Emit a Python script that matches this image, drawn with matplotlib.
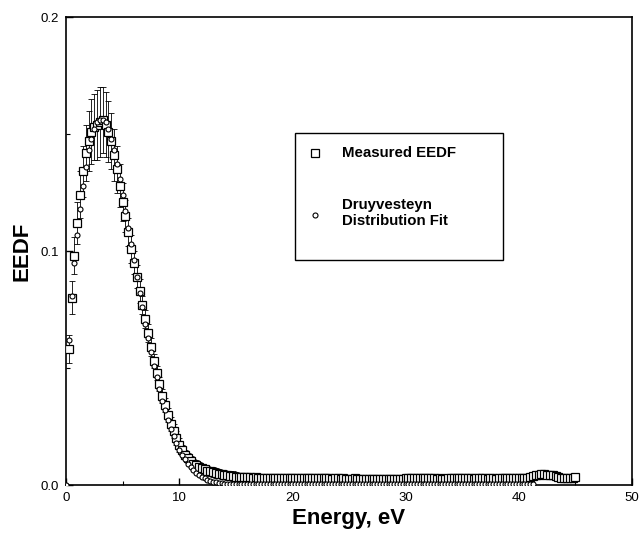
import numpy as np
import matplotlib
matplotlib.use("Agg")
import matplotlib.pyplot as plt
from matplotlib.patches import Rectangle
from matplotlib.lines import Line2D

plt.rcParams['font.family'] = ['Liberation Sans', 'DejaVu Sans']

# Measured EEDF: energies 0.25 ... 45.0 eV (step 0.25)
measured_energy = np.arange(0.25, 45.001, 0.25)
measured_eedf = [
    0.058, 0.080, 0.098, 0.112, 0.124, 0.134, 0.142, 0.147, 0.151, 0.153,
    0.154, 0.155, 0.156, 0.154, 0.151, 0.147, 0.141, 0.135, 0.128, 0.121,
    0.115, 0.108, 0.101, 0.095, 0.089, 0.083, 0.077, 0.071, 0.065, 0.059,
    0.053, 0.048, 0.043, 0.038, 0.034, 0.030, 0.026, 0.023, 0.020, 0.017,
    0.015, 0.013, 0.0115, 0.0102, 0.0092, 0.0085, 0.0078, 0.0072, 0.0067, 0.0062,
    0.0058, 0.0055, 0.0052, 0.0049, 0.0046, 0.0044, 0.0042, 0.0040, 0.0038, 0.0036,
    # 15.25 - 20.0
    0.0035, 0.0034, 0.0034, 0.0033, 0.0033, 0.0032, 0.0033, 0.0032, 0.0031, 0.0032,
    0.0031, 0.0031, 0.0030, 0.0031, 0.0030, 0.0030, 0.0031, 0.0030, 0.0029, 0.0030,
    # 20.25 - 25.0
    0.0030, 0.0029, 0.0029, 0.0030, 0.0028, 0.0029, 0.0029, 0.0028, 0.0029, 0.0028,
    0.0028, 0.0029, 0.0028, 0.0027, 0.0028, 0.0028, 0.0027, 0.0028, 0.0027, 0.0027,
    # 25.25 - 30.0
    0.0027, 0.0028, 0.0026, 0.0027, 0.0026, 0.0027, 0.0026, 0.0026, 0.0025, 0.0026,
    0.0025, 0.0026, 0.0025, 0.0024, 0.0025, 0.0024, 0.0025, 0.0026, 0.0027, 0.0028,
    # 30.25 - 35.0
    0.0028, 0.0029, 0.0029, 0.0030, 0.0029, 0.0030, 0.0029, 0.0028, 0.0029, 0.0028,
    0.0027, 0.0028, 0.0027, 0.0027, 0.0028, 0.0029, 0.0028, 0.0029, 0.0028, 0.0028,
    # 35.25 - 40.0
    0.0029, 0.0028, 0.0028, 0.0027, 0.0028, 0.0028, 0.0029, 0.0028, 0.0027, 0.0028,
    0.0028, 0.0027, 0.0028, 0.0029, 0.0028, 0.0029, 0.0030, 0.0029, 0.0030, 0.0030,
    # 40.25 - 45.0
    0.0030, 0.0031, 0.0031, 0.0033, 0.0037, 0.0042, 0.0045, 0.0046, 0.0046, 0.0045,
    0.0044, 0.0042, 0.0038, 0.0033, 0.0030, 0.0029, 0.0030, 0.0031, 0.0032, 0.0033,
]
# error bars for the first 60 measured points (0.25 ... 15.0 eV)
measured_err = [
    0.006, 0.007, 0.008, 0.009, 0.010, 0.011, 0.012, 0.013, 0.014, 0.014,
    0.015, 0.015, 0.014, 0.014, 0.013, 0.012, 0.011, 0.010, 0.009, 0.008,
    0.007, 0.006, 0.006, 0.005, 0.005, 0.005, 0.004, 0.004, 0.004, 0.004,
    0.003, 0.003, 0.003, 0.003, 0.003, 0.003, 0.003, 0.003, 0.003, 0.003,
    0.002, 0.002, 0.002, 0.002, 0.002, 0.002, 0.002, 0.002, 0.002, 0.002,
    0.002, 0.002, 0.002, 0.002, 0.002, 0.002, 0.002, 0.002, 0.002, 0.002,
]

# Druyvesteyn fit: energies 0 ... 41.25 eV (step 0.25)
fit_energy = np.arange(0.0, 41.251, 0.25)
fit_eedf = [
    0.0, 0.062, 0.081, 0.095, 0.107, 0.118, 0.128, 0.136, 0.143, 0.148,
    0.152, 0.155, 0.156, 0.156, 0.155, 0.152, 0.148, 0.143, 0.137, 0.131,
    0.124, 0.117, 0.110, 0.103, 0.096, 0.089, 0.082, 0.076, 0.069, 0.063,
    0.057, 0.051, 0.046, 0.041, 0.036, 0.032, 0.028, 0.024, 0.021, 0.018,
    0.015, 0.013, 0.011, 0.0092, 0.0077, 0.0064, 0.0053, 0.0043, 0.0035, 0.0028,
    0.0023, 0.0018, 0.0014, 0.0011, 0.0009, 0.0007, 0.0005,
    # 14.25 - 41.25
    0.0005, 0.0004, 0.0004, 0.0004, 0.0004, 0.0004, 0.0004, 0.0004, 0.0004, 0.0004,
    0.0004, 0.0004, 0.0004, 0.0004, 0.0004, 0.0004, 0.0004, 0.0004, 0.0004, 0.0004,
    0.0004, 0.0004, 0.0004, 0.0004, 0.0004, 0.0004, 0.0004, 0.0004, 0.0004, 0.0004,
    0.0004, 0.0004, 0.0004, 0.0004, 0.0004, 0.0004, 0.0004, 0.0004, 0.0004, 0.0004,
    0.0004, 0.0004, 0.0004, 0.0004, 0.0004, 0.0004, 0.0004, 0.0004, 0.0004, 0.0004,
    0.0004, 0.0004, 0.0004, 0.0004, 0.0004, 0.0004, 0.0004, 0.0004, 0.0004, 0.0004,
    0.0004, 0.0004, 0.0004, 0.0004, 0.0004, 0.0004, 0.0004, 0.0004, 0.0004, 0.0004,
    0.0004, 0.0004, 0.0004, 0.0004, 0.0004, 0.0004, 0.0004, 0.0004, 0.0004, 0.0004,
    0.0004, 0.0004, 0.0004, 0.0004, 0.0004, 0.0004, 0.0004, 0.0004, 0.0004, 0.0004,
    0.0004, 0.0004, 0.0004, 0.0004, 0.0004, 0.0004, 0.0004, 0.0004, 0.0004, 0.0004,
    0.0004, 0.0004, 0.0004, 0.0004, 0.0004, 0.0004, 0.0004, 0.0004, 0.0004,
]

legend_labels = ["Measured EEDF", "Druyvesteyn\nDistribution Fit"]
x_ticks = [0, 10, 20, 30, 40, 50]
y_ticks = [0.0, 0.1, 0.2]
y_tick_labels = ["0.0", "0.1", "0.2"]

fig = plt.figure(figsize=(6.39, 5.33), dpi=100)
ax = fig.add_axes([0.1033, 0.090, 0.8857, 0.878])

n_err = len(measured_err)
ax.errorbar(measured_energy[:n_err], measured_eedf[:n_err], yerr=measured_err,
            fmt='none', ecolor='black', elinewidth=0.6, capsize=2.0,
            capthick=0.6, zorder=2)
ax.plot(measured_energy, measured_eedf, linestyle='none', marker='s',
        markersize=5.2, markerfacecolor='white', markeredgecolor='black',
        markeredgewidth=0.9, zorder=3)
ax.plot(fit_energy, fit_eedf, linestyle='none', marker='o',
        markersize=3.6, markerfacecolor='white', markeredgecolor='black',
        markeredgewidth=0.8, zorder=4)

ax.set_xlim(0, 50)
ax.set_ylim(0, 0.2)
ax.set_xticks(x_ticks)
ax.set_xticklabels([str(t) for t in x_ticks])
ax.set_yticks(y_ticks)
ax.set_yticklabels(y_tick_labels)
ax.set_xticks([5, 15, 25, 35, 45], minor=True)
ax.set_yticks([0.05, 0.15], minor=True)
ax.tick_params(which='major', direction='in', length=5, width=1.0,
               labelsize=9.5, pad=5)
ax.tick_params(which='minor', direction='in', length=3, width=0.8)
for s in ax.spines.values():
    s.set_linewidth(1.2)

ax.set_xlabel("Energy, eV", fontsize=16, fontweight='bold', labelpad=3)
ax.set_ylabel("EEDF", fontsize=16, fontweight='bold', labelpad=6)

# legend box
ax.add_patch(Rectangle((0.405, 0.481), 0.367, 0.271, transform=ax.transAxes,
                       facecolor='white', edgecolor='black', linewidth=1.0,
                       zorder=5))
ax.add_line(Line2D([0.440], [0.710], transform=ax.transAxes, marker='s',
                   markersize=5.2, markerfacecolor='white',
                   markeredgecolor='black', markeredgewidth=0.9, zorder=6))
ax.add_line(Line2D([0.440], [0.576], transform=ax.transAxes, marker='o',
                   markersize=3.6, markerfacecolor='white',
                   markeredgecolor='black', markeredgewidth=0.8, zorder=6))
ax.text(0.487, 0.710, legend_labels[0], transform=ax.transAxes,
        fontsize=10.8, fontweight='bold', va='center', ha='left', zorder=6)
ax.text(0.487, 0.582, legend_labels[1], transform=ax.transAxes,
        fontsize=10.8, fontweight='bold', va='center', ha='left', zorder=6,
        linespacing=1.2)

fig.savefig("out.png", dpi=100)
